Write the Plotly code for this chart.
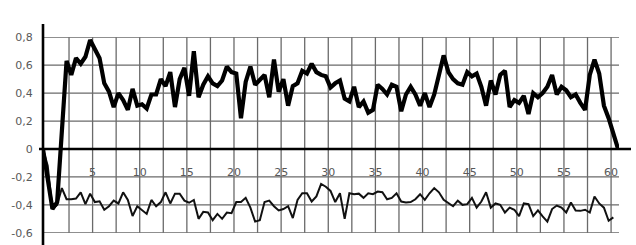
import plotly.graph_objects as go

thick_values = [
    0.00, -0.20, -0.43, -0.38, 0.12, 0.63, 0.53, 0.65, 0.61, 0.66,
    0.78, 0.71, 0.65, 0.47, 0.41, 0.30, 0.40, 0.35, 0.28, 0.43,
    0.31, 0.32, 0.29, 0.39, 0.39, 0.50, 0.45, 0.55, 0.30, 0.50,
    0.58, 0.38, 0.70, 0.37, 0.46, 0.52, 0.47, 0.45, 0.49, 0.59,
    0.55, 0.54, 0.22, 0.48, 0.59, 0.46, 0.49, 0.53, 0.37, 0.64,
    0.41, 0.50, 0.31, 0.45, 0.47, 0.56, 0.54, 0.61, 0.55, 0.53,
    0.52, 0.44, 0.47, 0.49, 0.36, 0.34, 0.445, 0.30, 0.34, 0.26,
    0.28, 0.46, 0.43, 0.39, 0.46, 0.445, 0.27, 0.39, 0.445, 0.39,
    0.31, 0.40, 0.30, 0.39, 0.53, 0.67, 0.55, 0.50, 0.47, 0.46,
    0.55, 0.52, 0.54, 0.445, 0.31, 0.49, 0.39, 0.53, 0.56, 0.30,
    0.35, 0.33, 0.38, 0.25, 0.40, 0.37, 0.40, 0.445, 0.53, 0.39,
    0.445, 0.42, 0.37, 0.39, 0.33, 0.28, 0.53, 0.64, 0.54, 0.31,
    0.22, 0.12, 0.00,
]

thin_values = [
    0.00, -0.12, -0.43, -0.40, -0.28, -0.36, -0.36, -0.355, -0.31, -0.395,
    -0.32, -0.38, -0.375, -0.435, -0.41, -0.37, -0.39, -0.31, -0.365, -0.48,
    -0.41, -0.435, -0.465, -0.365, -0.41, -0.38, -0.31, -0.39, -0.32, -0.32,
    -0.37, -0.385, -0.365, -0.50, -0.45, -0.455, -0.51, -0.465, -0.50, -0.455,
    -0.46, -0.38, -0.38, -0.35, -0.42, -0.52, -0.51, -0.38, -0.37, -0.41,
    -0.44, -0.43, -0.41, -0.495, -0.365, -0.317, -0.317, -0.376, -0.34, -0.25,
    -0.27, -0.30, -0.38, -0.317, -0.50, -0.317, -0.324, -0.32, -0.35, -0.317,
    -0.324, -0.305, -0.31, -0.36, -0.35, -0.317, -0.376, -0.383, -0.38, -0.36,
    -0.324, -0.364, -0.317, -0.28, -0.31, -0.364, -0.39, -0.41, -0.37, -0.40,
    -0.395, -0.35, -0.42, -0.376, -0.31, -0.42, -0.39, -0.40, -0.455, -0.42,
    -0.435, -0.48, -0.39, -0.395, -0.48, -0.44, -0.483, -0.52, -0.43, -0.405,
    -0.42, -0.455, -0.383, -0.44, -0.443, -0.435, -0.455, -0.34, -0.39, -0.42,
    -0.514, -0.49,
]

x_step = 0.5
thick_x = [i * x_step for i in range(len(thick_values))]
thin_x = [i * x_step for i in range(len(thin_values))]

# Axis ticks
x_grid_offset = 0.26
x_grid_step = 2.5
x_grid_count = 24
x_tick_labels = ["5", "10", "15", "20", "25", "30", "35", "40", "45", "50", "55", "60"]
y_tick_values = [-0.6, -0.4, -0.2, 0.0, 0.2, 0.4, 0.6, 0.8]
y_tick_labels = ["-0,6", "-0,4", "-0,2", "0", "0,2", "0,4", "0,6", "0,8"]

x_tickvals = [x_grid_offset + x_grid_step * (k + 1) for k in range(x_grid_count)]
x_ticktext = []
for k in range(x_grid_count):
    x_ticktext.append(x_tick_labels[k // 2] if k % 2 == 1 else "")

W, H = 636, 245
ml, mr, mt, mb = 43, 17, 37, 12
pw = W - ml - mr
ph = H - mt - mb
grid_color = "#6a6a6a"
x_range = [0, 61.1]
y_range = [-0.6015, 0.8015]

fig = go.Figure()

# Gridlines drawn as line traces along the axis tick positions
gx, gy = [], []
for xv in x_tickvals:
    gx += [xv, xv, None]
    gy += [y_tick_values[0], y_tick_values[-1], None]
for yv in y_tick_values:
    if yv != 0:
        gx += [x_range[0], x_range[1], None]
        gy += [yv, yv, None]
fig.add_trace(go.Scatter(
    x=gx, y=gy, mode="lines", line=dict(color=grid_color, width=1.3),
    hoverinfo="skip", connectgaps=False,
))

fig.add_trace(go.Scatter(
    x=thin_x, y=thin_values, mode="lines",
    line=dict(color="#111111", width=2), hoverinfo="skip",
))
fig.add_trace(go.Scatter(
    x=thick_x, y=thick_values, mode="lines",
    line=dict(color="#000000", width=4.2), hoverinfo="skip",
))

shapes = [
    dict(type="line", xref="paper", yref="y",
         x0=-4 / pw, x1=(631 - ml) / pw, y0=0, y1=0,
         line=dict(color="black", width=2.6), layer="above"),
    dict(type="line", xref="paper", yref="paper",
         x0=0, x1=0, y0=-mb / ph, y1=1 + 13 / ph,
         line=dict(color="black", width=2.6), layer="above"),
]

fig.update_layout(
    template="none",
    width=W, height=H,
    margin=dict(l=ml, r=mr, t=mt, b=mb, pad=0),
    paper_bgcolor="white", plot_bgcolor="white",
    showlegend=False,
    font=dict(family="DejaVu Sans", size=11, color="#595959"),
    xaxis=dict(
        range=x_range, tickmode="array", tickvals=x_tickvals, ticktext=x_ticktext,
        showgrid=False, zeroline=False, showline=False,
        ticks="outside", ticklen=13, tickcolor="rgba(0,0,0,0)",
        anchor="free", position=0.6 / 1.4,
        tickfont=dict(family="DejaVu Sans", size=11, color="#595959"),
    ),
    yaxis=dict(
        range=y_range, tickmode="array", tickvals=y_tick_values, ticktext=y_tick_labels,
        showgrid=False, zeroline=False, showline=False,
        ticks="outside", ticklen=7, tickcolor="rgba(0,0,0,0)",
        tickfont=dict(family="DejaVu Sans", size=11, color="#595959"),
    ),
    shapes=shapes,
)

fig.write_html("out.html")
